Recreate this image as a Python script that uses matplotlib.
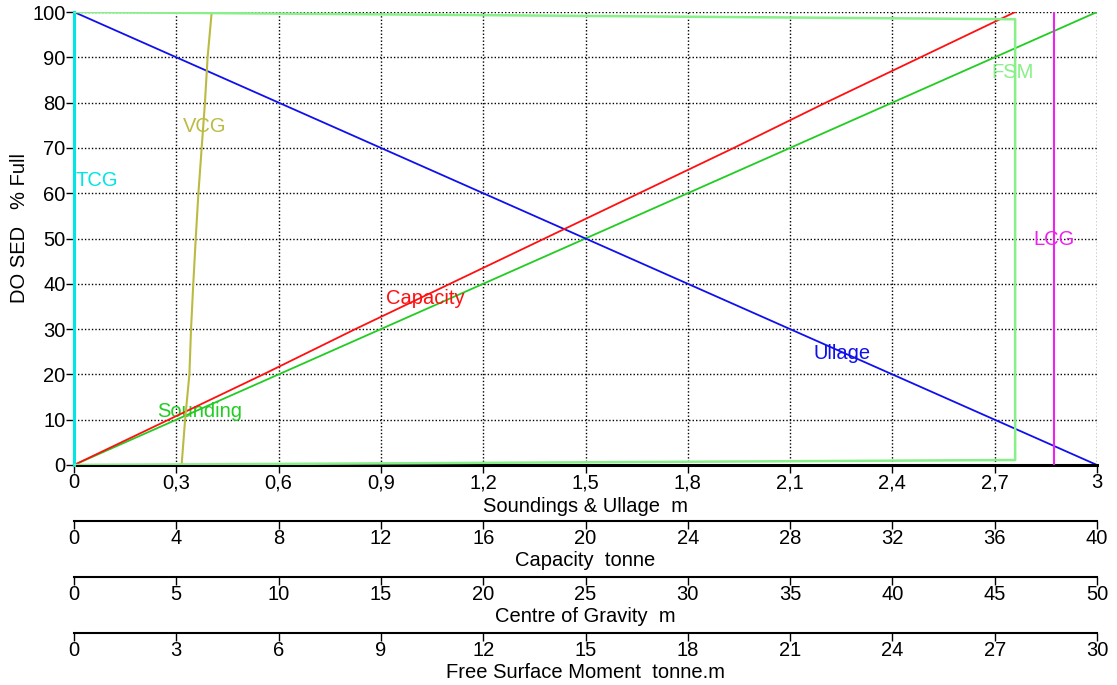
import matplotlib
matplotlib.use("Agg")
import matplotlib.pyplot as plt
from matplotlib.ticker import FuncFormatter

plt.rcParams["font.family"] = ["Liberation Sans", "DejaVu Sans"]
FS = 14.5
plt.rcParams["font.size"] = FS

# % full levels
pct = [0, 10, 20, 30, 40, 50, 60, 70, 80, 90, 100]

# soundings & ullage (m)
sounding = [0, 0.3, 0.6, 0.9, 1.2, 1.5, 1.8, 2.1, 2.4, 2.7, 3.0]
ullage = [3.0, 2.7, 2.4, 2.1, 1.8, 1.5, 1.2, 0.9, 0.6, 0.3, 0]

# capacity (tonne)
capacity = [0, 3.7, 7.4, 11.0, 14.7, 18.4, 22.1, 25.8, 29.4, 33.1, 36.8]

# centre of gravity (m)
vcg = [5.26, 5.43, 5.64, 5.72, 5.83, 5.95, 6.08, 6.24, 6.40, 6.53, 6.73]
tcg = [0] * 11
lcg = [47.9] * 11

# free surface moment (tonne.m)
fsm_pct = [0, 1.1, 98.4, 100]
fsm = [0, 27.6, 27.6, 0]

fig = plt.figure(figsize=(11.17, 6.85), dpi=100)
ax = fig.add_axes([74 / 1117, 1 - 465 / 685, 1023 / 1117, 453 / 685])

ax_cap = ax.twiny()
ax_cog = ax.twiny()
ax_fsm = ax.twiny()
for a, lim in ((ax_cap, 40), (ax_cog, 50), (ax_fsm, 30)):
    a.set_xlim(0, lim)
    a.axis("off")

ax.set_xlim(0, 3)
ax.set_ylim(0, 100)

ax_fsm.plot(fsm, fsm_pct, color="#88f088", lw=1.8, zorder=2)
ax_cog.plot(vcg, pct, color="#bbbb44", lw=1.5)
ax_cog.plot(lcg, pct, color="#ee22ee", lw=1.5)
ax.plot(sounding, pct, color="#22cc22", lw=1.3)
ax_cap.plot(capacity, pct, color="#ff1010", lw=1.3)
ax.plot(ullage, pct, color="#1010ee", lw=1.3)
ax_cog.plot(tcg, pct, color="#00e5e5", lw=2.2, clip_on=False)

ax.text(0.245, 10.5, "Sounding", color="#22cc22", fontsize=FS)
ax.text(0.915, 35.5, "Capacity", color="#ff1010", fontsize=FS)
ax.text(2.17, 23.5, "Ullage", color="#1010ee", fontsize=FS)
ax.text(0.32, 73.5, "VCG", color="#bbbb44", fontsize=FS)
ax.text(0.005, 61.5, "TCG", color="#00e5e5", fontsize=FS)
ax.text(2.69, 85.5, "FSM", color="#88f088", fontsize=FS)
ax.text(2.812, 48.5, "LCG", color="#ee22ee", fontsize=FS)

comma = FuncFormatter(lambda v, p: ("%g" % round(v, 2)).replace(".", ","))
ax.set_xticks([0, 0.3, 0.6, 0.9, 1.2, 1.5, 1.8, 2.1, 2.4, 2.7, 3.0])
ax.xaxis.set_major_formatter(comma)
ax.set_yticks(range(0, 101, 10))
ax.grid(True, color="black", linestyle=(0, (1, 1.5)), lw=1)
for s in ("top", "right"):
    ax.spines[s].set_visible(False)
ax.spines["bottom"].set_linewidth(2.2)
ax.spines["left"].set_linewidth(1)
ax.tick_params(direction="out", length=6, width=1, pad=0, labelsize=FS)
ax.set_xlabel("Soundings & Ullage  m", fontsize=FS, labelpad=3)
ax.set_ylabel("DO SED   % Full", fontsize=FS)
ax.yaxis.set_label_coords(-0.044, 0.524)

scales = [
    (521, 40, [0, 4, 8, 12, 16, 20, 24, 28, 32, 36, 40], "Capacity  tonne"),
    (577, 50, [0, 5, 10, 15, 20, 25, 30, 35, 40, 45, 50], "Centre of Gravity  m"),
    (633, 30, [0, 3, 6, 9, 12, 15, 18, 21, 24, 27, 30], "Free Surface Moment  tonne.m"),
]
for ypix, lim, ticks, label in scales:
    s = fig.add_axes([74 / 1117, 1 - ypix / 685, 1023 / 1117, 0.0001])
    s.set_xlim(0, lim)
    s.set_xticks(ticks)
    s.set_yticks([])
    for k in ("top", "left", "right"):
        s.spines[k].set_visible(False)
    s.spines["bottom"].set_linewidth(1.5)
    s.tick_params(direction="out", length=6, width=1, pad=0, labelsize=FS)
    s.patch.set_alpha(0)
    s.set_xlabel(label, fontsize=FS, labelpad=2)

fig.savefig("out.png", dpi=100)
